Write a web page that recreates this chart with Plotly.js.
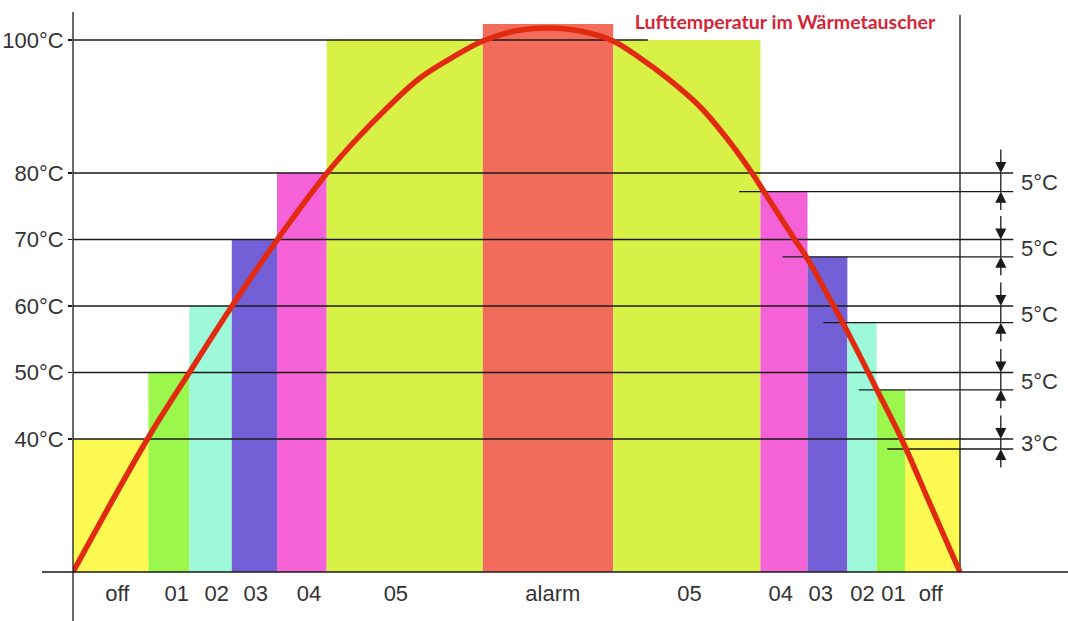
<!DOCTYPE html>
<html>
<head>
<meta charset="utf-8">
<script src="https://cdn.plot.ly/plotly-3.0.1.min.js"></script>
<style>html,body{margin:0;padding:0;background:#fff;}#chart{width:1068px;height:621px;}</style>
</head>
<body>
<div id="chart"></div>
<script>
// ---- data (time in arbitrary units 0..100, temperature in °C) ----
const stages   = ['off','01','02','03','04','05','alarm','05','04','03','02','01','off'];
const edges    = [0, 8.5, 13.1, 17.9, 23.0, 28.6, 46.2, 60.9, 77.5, 82.8, 87.3, 90.6, 93.8, 100];
const tops     = [40, 50, 60, 70, 80, 100, 102.4, 100, 77.2, 67.4, 57.5, 47.4, 40];
const stageColors = ['#FCFA52','#9CF74D','#9EF8DA','#7460D6','#F562D8','#D7F147','#F26B5B',
                     '#D7F147','#F562D8','#7460D6','#9EF8DA','#9CF74D','#FCFA52'];
const labelPos = [5.0, 11.7, 16.2, 20.6, 26.6, 36.4, 54.1, 69.5, 79.8, 84.3, 89.0, 92.5, 96.7];
const baseTemp = 20;

const yTickVals = [40, 50, 60, 70, 80, 100];
const yTickText = ['40°C','50°C','60°C','70°C','80°C','100°C'];

// long reference lines (switch-on levels)
const refLevels = [100, 80, 70, 60, 50, 40];
const refEnds   = [64.8, 106, 106, 106, 106, 106];
// short lines (switch-off levels)
const offLevels = [77.2, 67.4, 57.5, 47.4, 38.5];
const offStarts = [75.1, 80.0, 84.6, 88.6, 91.8];
const onLevels  = [80, 70, 60, 50, 40];
const hystText  = ['5°C','5°C','5°C','5°C','3°C'];

// air temperature curve
const curveX = [0, 8.46, 13.08, 17.93, 23.0, 28.64, 31.57, 35.40, 39.12, 42.84, 46.22, 49.83, 53.55,
                57.16, 60.88, 63.92, 66.97, 70.69, 73.51, 76.44, 77.68, 81.40, 82.75, 85.57, 87.03, 89.63, 90.64, 93.46, 96.62, 100];
const curveT = [20, 40.15, 49.92, 60.0, 69.92, 80.0, 84.51, 89.77, 94.29, 97.44, 99.85, 101.35, 101.8,
                101.35, 99.85, 97.29, 94.29, 89.96, 85.56, 80.23, 77.67, 69.92, 67.22, 60.45, 56.84, 50.08, 47.37, 39.85, 30.23, 20];

const titleText = 'Lufttemperatur im Wärmetauscher';

// ---- geometry ----
const W = 1068, H = 621;
const mL = 73, mB = 49;
const pxPerX = 8.87, pxPerT = 6.65;
const plotW = W - mL, plotH = H - mB;
const xMax = plotW / pxPerX;
const tMax = baseTemp + plotH / pxPerT;

const centers = [], widths = [], lens = [];
for (let i = 0; i < stages.length; i++) {
  centers.push((edges[i] + edges[i+1]) / 2);
  widths.push(edges[i+1] - edges[i]);
  lens.push(tops[i] - baseTemp);
}

const lx = [], ly = [];
refLevels.forEach((v, i) => { lx.push(0, refEnds[i], null); ly.push(v, v, null); });
offLevels.forEach((v, i) => { lx.push(offStarts[i], 106, null); ly.push(v, v, null); });

const arrowX = 104.6;
const segX = [], segY = [];
onLevels.forEach((v, i) => { segX.push(arrowX, arrowX, null); segY.push(v, offLevels[i], null); });

const traces = [
  {type:'bar', x: centers, y: lens, base: baseTemp, width: widths,
   marker:{color: stageColors, line:{width:0}}, hoverinfo:'skip'},
  {type:'scatter', mode:'lines', x: lx, y: ly, line:{color:'#1a1a1a', width:1.3}, hoverinfo:'skip'},
  {type:'scatter', mode:'lines', x: segX, y: segY, line:{color:'#1a1a1a', width:1.3}, hoverinfo:'skip'},
  {type:'scatter', mode:'lines', x: [100, 100], y: [baseTemp, 103.8], line:{color:'#1a1a1a', width:1.3}, hoverinfo:'skip'},
  {type:'scatter', mode:'lines', x: curveX, y: curveT, line:{color:'#E12B10', width:5.5, shape:'spline', smoothing:1}, hoverinfo:'skip'}
];

const annotations = [];
onLevels.forEach((v, i) => {
  annotations.push({x: arrowX, y: v, xref:'x', yref:'y', ax: 0, ay: -25, text:'', showarrow:true,
    arrowhead:2, arrowsize:1.7, arrowwidth:1.3, arrowcolor:'#1a1a1a'});
  annotations.push({x: arrowX, y: offLevels[i], xref:'x', yref:'y', ax: 0, ay: 20, text:'', showarrow:true,
    arrowhead:2, arrowsize:1.7, arrowwidth:1.3, arrowcolor:'#1a1a1a'});
  annotations.push({x: 106.7, y: (v + offLevels[i]) / 2, xref:'x', yref:'y', xanchor:'left', yanchor:'middle',
    text: hystText[i], showarrow:false, font:{family:'Liberation Sans, Arial, sans-serif', size:22, color:'#333'}});
});

const layout = {
  width: W, height: H,
  margin: {l: mL, r: 0, t: 0, b: mB, pad: 0},
  paper_bgcolor: '#fff', plot_bgcolor: '#fff',
  showlegend: false, barmode: 'overlay', hovermode: false,
  title: {text: titleText, x: 785 / W, xanchor: 'center', y: 1 - 22 / H, yanchor: 'middle',
          font: {family: 'Lato, Open Sans, sans-serif', size: 19.5, color: '#D42638', weight: 'bold'}},
  xaxis: {range: [0, xMax], showgrid:false, zeroline:false, showline:false, ticks:'',
          tickvals: labelPos, ticktext: stages, ticklabelstandoff: 6,
          tickfont:{family:'Liberation Sans, Arial, sans-serif', size:22, color:'#333'}, fixedrange:true},
  yaxis: {range: [baseTemp, tMax], showgrid:false, zeroline:false, showline:false,
          ticks:'outside', ticklen:4, tickwidth:1.3, tickcolor:'#1a1a1a',
          tickvals: yTickVals, ticktext: yTickText, ticklabelstandoff: 0,
          tickfont:{family:'Liberation Sans, Arial, sans-serif', size:22, color:'#333'}, fixedrange:true},
  shapes: [
    // vertical y axis line (extends below the baseline)
    {type:'line', xref:'paper', yref:'paper', x0:0, x1:0, y0:(plotH - 12) / plotH, y1:-mB / plotH,
     line:{color:'#1a1a1a', width:1.3}},
    // baseline (extends left of the axis)
    {type:'line', xref:'paper', yref:'paper', x0:-31 / plotW, x1:1, y0:0, y1:0,
     line:{color:'#1a1a1a', width:1.3}}
  ],
  annotations: annotations
};

Plotly.newPlot('chart', traces, layout, {staticPlot: true, displayModeBar: false});
</script>
</body>
</html>
